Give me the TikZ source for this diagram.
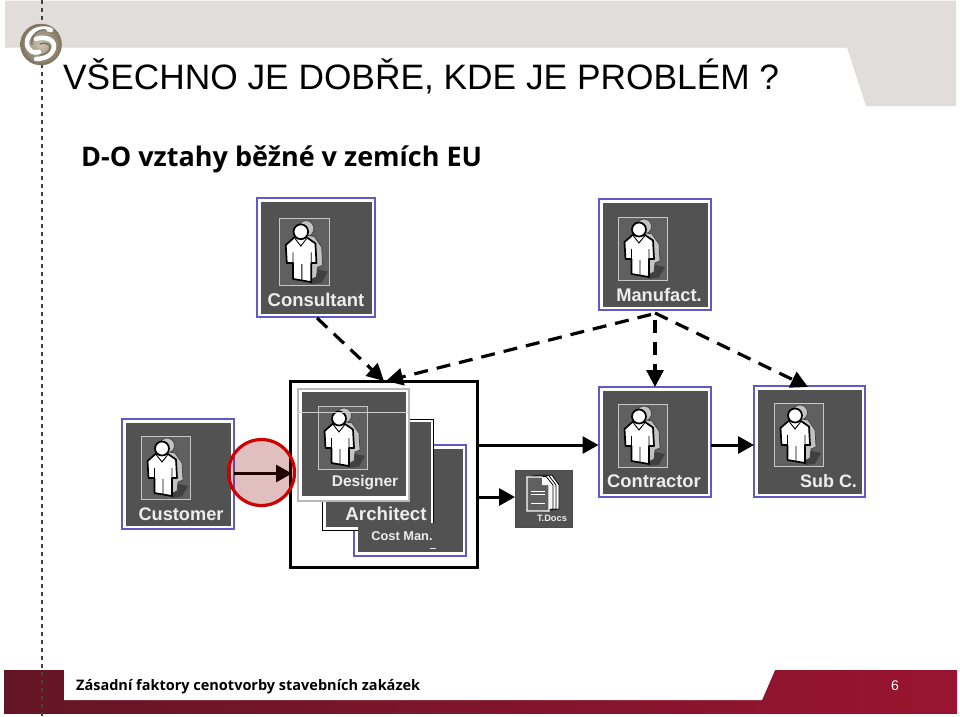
\documentclass[tikz,border=0pt]{standalone}
\usepackage{fontspec}
\setmainfont{Liberation Sans}
\newfontfamily\tahomafont{Open Sans}
\usetikzlibrary{arrows.meta,calc}
\definecolor{hdr}{HTML}{E0DDDA}
\definecolor{dark}{HTML}{525252}
\definecolor{icon}{HTML}{606060}
\definecolor{bluefr}{HTML}{5F5AC8}
\definecolor{ftL}{HTML}{641525}
\definecolor{ftR}{HTML}{9A1430}
\definecolor{bronze}{HTML}{7F735F}
\definecolor{bronzeL}{HTML}{CFC8B8}
\tikzset{
  x=1pt,y=-1pt,
  outerbox/.style={draw=bluefr,line width=1.8pt,fill=white,inner sep=0pt,outer sep=0pt,anchor=north west},
  innerbox/.style={fill=dark,draw=none},
  lbl/.style={text=white!93!black,font=\bfseries\fontsize{#1}{#1}\selectfont,inner sep=0pt},
  solidarrow/.style={draw=black,line width=3pt,-{Triangle[length=16pt,width=17pt]}},
  dasharrow/.style={draw=black,line width=3.2pt,dash pattern=on 14pt off 9pt,-{Triangle[length=17pt,width=17pt]}},
  person/.pic={
    \fill[icon] (0,0) rectangle (49,63);
    \draw[white!78!black,line width=1pt] (0,0) rectangle (49,63);
    \fill[black!75] (29,60) -- (33,47) -- (47,50) -- (41,60.5) -- (32,62) -- cycle;
    \draw[fill=white!76!black,draw=black!75,line width=.7pt] (26,9.5) circle (7.5);
    \draw[fill=white!76!black,draw=black!75,line width=.7pt] (22,15) -- (34,17) -- (41,27) -- (42,44) -- (37,46) -- (36,55) -- (28,59) -- cycle;
    \draw[fill=white,draw=black,line width=1.7pt,line join=round]
      (14.5,18) -- (27,18) -- (35,23.5) -- (36,42) -- (31,42) -- (31,60) -- (13.5,57) -- (13.5,42) -- (7.5,42) -- (6.5,25) -- cycle;
    \draw[black,line width=.9pt] (15.5,19) -- (21,26) -- (26.5,19) (22,43) -- (22,58) (13.5,32) -- (13.5,42) (31,32) -- (31,42);
    \draw[fill=white,draw=black,line width=1.7pt] (21,12.5) circle (7);
  }
}
\newcommand{\personbox}[9]{%
  \node[outerbox,minimum width=#4pt,minimum height=#5pt] (#1) at (#2,#3) {};
  \fill[innerbox] ($(#1.north west)+(3.5,3.5)$) rectangle ($(#1.south east)+(-3.5,-3.5)$);
  \pic at (#6,#7) {person};
  \def\lastname{#1}\def\lastx{#8}\def\lasty{#9}%
  \personlabel}
\newcommand{\personlabel}[2]{\node[lbl=#1] (\lastname-label) at (\lastx,\lasty) {#2};}
\begin{document}
\begin{tikzpicture}
\useasboundingbox (0,0) rectangle (960,716);
\fill[white] (0,0) rectangle (960,716);
% header
\fill[hdr] (5,0.5) -- (956,0.5) -- (956,106) -- (866,106) -- (847,47.5) -- (5,47.5) -- cycle;
% footer
\shade[left color=ftL,right color=ftR] (4,670) rectangle (957,713.5);
\fill[white] (64,670) -- (775,670) -- (762,700) -- (64,700) -- cycle;
% dashed rule
\draw[black!75,line width=1.1pt,dash pattern=on 4pt off 4pt] (42,0) -- (42,716);
% logo
\shade[inner color=bronzeL,outer color=bronze,draw=bronze,line width=.5pt] (41,44.5) circle (20.5);
\draw[white,line width=4.5pt,line cap=round] (51,30) .. controls (39,25) and (26,33) .. (27,44) .. controls (28,51) and (34,54) .. (39,52);
\draw[white,line width=4.5pt,line cap=round] (36,39) .. controls (44,36) and (54,39) .. (54,46) .. controls (54,54) and (46,59) .. (36,59);
\draw[bronze,line width=1.5pt,line cap=round] (46,30) .. controls (37,29) and (31,36) .. (32,44);
\draw[bronze,line width=1.5pt,line cap=round] (40,44) .. controls (46,42) and (50,44) .. (50,48) .. controls (49,52) and (45,55) .. (40,55);
% titles
\node[anchor=base west,inner sep=0pt,font=\fontsize{35.3}{36}\selectfont] (title) at (63,89) {VŠECHNO JE DOBŘE, KDE JE PROBLÉM ?};
\node[anchor=base west,inner sep=0pt,font=\tahomafont\bfseries\fontsize{27}{28}\selectfont] (subtitle) at (81,166) {D-O vztahy běžné v zemích EU};
\node[anchor=base west,inner sep=0pt,font=\tahomafont\bfseries\fontsize{14.5}{15}\selectfont] (footer) at (76,690) {Zásadní faktory cenotvorby stavebních zakázek};
\node[inner sep=0pt,text=white,font=\fontsize{14}{14}\selectfont] (pageno) at (895,686) {6};
% upper persons
\begin{scope}[every pic/.style={xscale=1.04,yscale=1.06}]
\personbox{consultant}{257}{198}{118}{119}{279}{218.5}{316}{300}{18.5}{Consultant}
\end{scope}
\personbox{manuf}{599}{199}{112}{111}{618}{217}{659}{295}{18.3}{Manufact.}
\personbox{contractor}{599}{387}{112}{110}{618}{404}{654}{481}{18.3}{Contractor}
\personbox{subc}{754}{386}{111}{111}{774}{403}{828.5}{481}{18}{Sub C.}
\personbox{customer}{122}{419}{112}{110}{141}{436}{181}{514}{18.2}{Customer}
% group frame
\node[draw=black,line width=3.2pt,inner sep=0pt,outer sep=0pt,anchor=north west,minimum width=187pt,minimum height=186pt] (group) at (290.5,381.5) {};
% cost man
\node[outerbox,minimum width=112pt,minimum height=111pt] (cost) at (354,445) {};
\fill[innerbox] (358,448.5) rectangle (462.5,551.5);
% architect
\node[draw=black,line width=1pt,fill=white,inner sep=0pt,outer sep=0pt,anchor=north west,minimum width=111pt,minimum height=111pt] (arch) at (322,419) {};
\fill[innerbox] (326,422) rectangle (431,527);
\node[lbl=18.7] (arch-label) at (386,514) {Architect};
\fill[innerbox] (358,523) rectangle (462.5,551.5);
\node[inner sep=0pt,text=white!93!black,font=\bfseries\fontsize{12.8}{13}\selectfont] (cost-label) at (402,536) {Cost Man.};
\fill[white!90!black] (430,547.5) rectangle (436,548.5);
% designer
\node[draw=white!72!black,line width=2.4pt,fill=white,inner sep=0pt,outer sep=0pt,anchor=north west,minimum width=111pt,minimum height=112pt] (designer) at (298,389) {};
\fill[innerbox] (301.5,392) rectangle (405.5,496);
\pic at (318,406) {person};
\draw[white!80!black,line width=.7pt] (297,412.5) -- (410,412.5);
\node[lbl=15.5] (designer-label) at (365,483) {Designer};
% T.Docs
\node[draw=black!70,line width=1pt,fill=dark,inner sep=0pt,outer sep=0pt,anchor=north west,minimum width=57pt,minimum height=57pt] (tdocs) at (515,470) {};
\foreach \d in {9,6,3}{
  \draw[fill=white,draw=black,line width=.8pt] (527+\d,477-\d*0.2) -- (543+\d,477-\d*0.2) -- (550+\d,485) -- (550+\d,509) -- (540,511) -- (527+\d,511) -- cycle;
}
\draw[fill=icon,draw=white,line width=1.3pt] (527,477) -- (542,477) -- (549,485) -- (549,511) -- (527,511) -- cycle;
\fill[white] (542,477) -- (549,485) -- (542,485) -- cycle;
\foreach \yy in {491,494,503}{\draw[white,line width=.8pt] (531,\yy) -- (545,\yy);}
\node[lbl=9.3] (tdocs-label) at (552,518) {T.Docs};
% connectors
\coordinate (custOut) at (234,473.5);
\coordinate (groupIn) at (292,473.5);
\coordinate (groupOut1) at (479,445);
\coordinate (contrIn) at (598.5,445);
\coordinate (groupOut2) at (479,497);
\coordinate (docsIn) at (515,497);
\coordinate (contrOut) at (711,445);
\coordinate (subIn) at (754,445);
\coordinate (consOut) at (317,318);
\coordinate (groupTop1) at (384,381);
\coordinate (mfOut) at (655,313);
\coordinate (groupTop2) at (386,381);
\coordinate (contrTop) at (655,387);
\coordinate (subTop) at (808,387);
\draw[solidarrow] (custOut) -- (groupIn);
\draw[solidarrow] (groupOut1) -- (contrIn);
\draw[solidarrow] (groupOut2) -- (docsIn);
\draw[solidarrow] (contrOut) -- (subIn);
\draw[dasharrow] (consOut) -- (groupTop1);
\draw[dasharrow] ($(mfOut)+(-4,1.5)$) -- (groupTop2);
\draw[dasharrow,dash pattern=on 13pt off 9pt] ($(mfOut)+(0,7)$) -- (contrTop);
\draw[dasharrow] (mfOut) -- (subTop);
% red circle
\node[circle,draw=red!82!black,line width=3.2pt,fill=red!55!black,fill opacity=.25,minimum size=66pt,inner sep=0pt] (focus) at (261.5,472.5) {};
\end{tikzpicture}
\end{document}
